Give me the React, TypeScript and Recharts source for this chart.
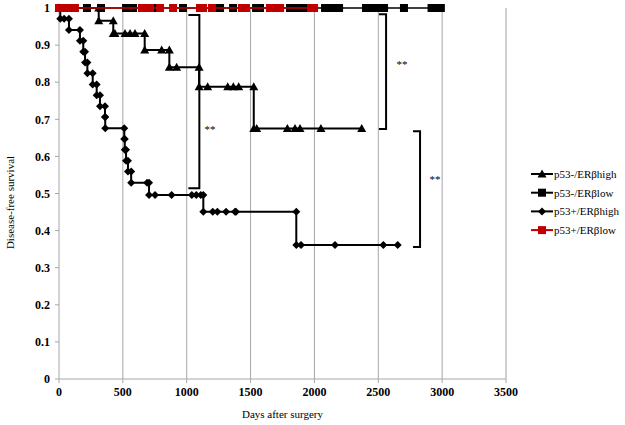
import { ComposedChart, Scatter, XAxis, YAxis, ReferenceLine, Label } from 'recharts'

// p53-/ERβhigh (triangles)
const negHighDays = [0, 311, 311, 425, 425, 438, 517, 556, 595, 671, 671, 804, 864, 864, 921, 1097, 1097, 1164, 1321, 1365, 1407, 1525, 1525, 1548, 1788, 1848, 1887, 2051, 2370]
const negHighSurv = [1, 1, 0.9655, 0.9655, 0.931, 0.931, 0.931, 0.931, 0.931, 0.931, 0.8867, 0.8867, 0.8867, 0.84, 0.84, 0.84, 0.7875, 0.7875, 0.7875, 0.7875, 0.7875, 0.7875, 0.675, 0.675, 0.675, 0.675, 0.675, 0.675, 0.675]

// p53-/ERβlow (black squares, no events)
const negLowDays = [0, 23, 219, 329, 525, 580, 752, 971, 1237, 1261, 1363, 1543, 1574, 1809, 1864, 1919, 2083, 2138, 2193, 2404, 2450, 2497, 2545, 2701, 2917, 2972, 2990]
const negLowSurv = [1, 1, 1, 1, 1, 1, 1, 1, 1, 1, 1, 1, 1, 1, 1, 1, 1, 1, 1, 1, 1, 1, 1, 1, 1, 1, 1]

// p53+/ERβhigh (diamonds)
const posHighDays = [0, 10, 10, 40, 78, 78, 164, 164, 190, 190, 204, 204, 222, 222, 264, 264, 295, 295, 321, 321, 360, 360, 362, 362, 511, 511, 515, 515, 525, 525, 540, 540, 565, 565, 690, 705, 705, 752, 882, 1040, 1075, 1110, 1130, 1130, 1204, 1240, 1308, 1378, 1386, 1858, 1858, 1895, 2161, 2540, 2652]
const posHighSurv = [1, 1, 0.971, 0.971, 0.971, 0.941, 0.941, 0.912, 0.912, 0.882, 0.882, 0.853, 0.853, 0.824, 0.824, 0.794, 0.794, 0.765, 0.765, 0.735, 0.735, 0.706, 0.706, 0.676, 0.676, 0.647, 0.647, 0.618, 0.618, 0.588, 0.588, 0.559, 0.559, 0.529, 0.529, 0.529, 0.496, 0.496, 0.496, 0.496, 0.496, 0.496, 0.496, 0.451, 0.451, 0.451, 0.451, 0.451, 0.451, 0.451, 0.361, 0.361, 0.361, 0.361, 0.361]

// p53+/ERβlow (red squares, no events)
const posLowDays = [0, 8, 47, 86, 125, 650, 673, 712, 791, 893, 1104, 1128, 1198, 1433, 1464, 1652, 1691, 1731, 1973, 1997]
const posLowSurv = [1, 1, 1, 1, 1, 1, 1, 1, 1, 1, 1, 1, 1, 1, 1, 1, 1, 1, 1, 1]

// significance brackets
const bracket1Days = [1013, 1099, 1099, 1013]
const bracket1Surv = [0.981, 0.981, 0.514, 0.514]
const bracket2Days = [2505, 2561, 2561, 2505]
const bracket2Surv = [0.983, 0.983, 0.674, 0.674]
const bracket3Days = [2772, 2827, 2827, 2772]
const bracket3Surv = [0.668, 0.668, 0.356, 0.356]
const starDays = [1182, 2686, 2944]
const starSurv = [0.679, 0.854, 0.544]

const xTicks = [0, 500, 1000, 1500, 2000, 2500, 3000, 3500]
const yTicks = [0, 0.1, 0.2, 0.3, 0.4, 0.5, 0.6, 0.7, 0.8, 0.9, 1]
const gridDays = [500, 1000, 1500, 2000, 2500, 3000]

const seriesNames = ['p53-/ERβhigh', 'p53-/ERβlow', 'p53+/ERβhigh', 'p53+/ERβlow']

const RED = '#c00000'
const FONT = '"Liberation Serif", "Times New Roman", "DejaVu Serif", serif'

const zip = (xs: number[], ys: number[]) => xs.map((x, i) => ({ x, y: ys[i] }))

const triangle = (fill: string) => (p: any) => (
  <polygon
    points={`${p.cx},${p.cy - 4.5} ${p.cx + 4.5},${p.cy + 3.5} ${p.cx - 4.5},${p.cy + 3.5}`}
    fill={fill}
  />
)
const square = (fill: string, h: number) => (p: any) => (
  <rect x={p.cx - h} y={p.cy - h} width={h * 2} height={h * 2} fill={fill} />
)
const diamond = (fill: string) => (p: any) => (
  <polygon points={`${p.cx},${p.cy - 4} ${p.cx + 4},${p.cy} ${p.cx},${p.cy + 4} ${p.cx - 4},${p.cy}`} fill={fill} />
)
const noMarker = () => <g />
const starText = (p: any) => (
  <text x={p.cx} y={p.cy + 6} textAnchor="middle" style={{ fontFamily: FONT }} fontSize={11} fill="#000" stroke="none">
    **
  </text>
)

const series = [
  { name: seriesNames[0], data: zip(negHighDays, negHighSurv), color: '#000', width: 2, shape: triangle('#000') },
  { name: seriesNames[1], data: zip(negLowDays, negLowSurv), color: '#000', width: 1.5, shape: square('#000', 4) },
  { name: seriesNames[2], data: zip(posHighDays, posHighSurv), color: '#000', width: 2, shape: diamond('#000') },
  { name: seriesNames[3], data: zip(posLowDays, posLowSurv), color: RED, width: 1.5, shape: square(RED, 4) },
]

const brackets = [zip(bracket1Days, bracket1Surv), zip(bracket2Days, bracket2Surv), zip(bracket3Days, bracket3Surv)]

const YTitle = (props: any) => {
  const { viewBox } = props
  const x = viewBox.x + 14
  const y = viewBox.y + viewBox.height / 2 + 9
  return (
    <text x={x} y={y} transform={`rotate(-90 ${x} ${y})`} textAnchor="middle" style={{ fontFamily: FONT }} fontSize={11} fill="#000">
      Disease-free survival
    </text>
  )
}

const XTitle = (props: any) => {
  const { viewBox } = props
  return (
    <text x={viewBox.x + viewBox.width / 2} y={418} textAnchor="middle" style={{ fontFamily: FONT }} fontSize={11} fill="#000">
      Days after surgery
    </text>
  )
}

function LegendBox() {
  return (
    <svg width={100} height={80} style={{ position: 'absolute', left: 528, top: 164 }}>
      {series.map((s, i) => {
        const cy = 10 + i * 18.7
        const Marker = s.shape
        return (
          <g key={s.name}>
            <line x1={3} x2={25} y1={cy} y2={cy} stroke={s.color} strokeWidth={2} />
            <Marker cx={14} cy={cy} />
            <text x={26} y={cy + 4} style={{ fontFamily: FONT }} fontSize={11} fill="#000">
              {s.name}
            </text>
          </g>
        )
      })}
    </svg>
  )
}

const tickStyle = { fontSize: 12, fontWeight: 'bold', fill: '#000', style: { fontFamily: FONT } }

export default function App() {
  return (
    <div style={{ position: 'absolute', left: 0, top: 0, width: 625, height: 425, background: '#fff', fontFamily: FONT }}>
      <ComposedChart width={625} height={425} margin={{ top: 8, right: 119, bottom: 0, left: 0 }}>
        {gridDays.map((d) => (
          <ReferenceLine key={d} x={d} stroke="#a6a6a6" strokeWidth={1} />
        ))}
        <ReferenceLine x={3500} stroke="#d0d0d0" strokeWidth={2} />
        <XAxis
          type="number"
          dataKey="x"
          domain={[0, 3500]}
          ticks={xTicks}
          height={46}
          stroke="#a6a6a6"
          tickSize={4}
          tickMargin={4}
          tick={tickStyle}
        >
          <Label content={XTitle} />
        </XAxis>
        <YAxis
          type="number"
          dataKey="y"
          domain={[0, 1]}
          ticks={yTicks}
          width={59}
          stroke="#a6a6a6"
          tickSize={4}
          tickMargin={5}
          tickFormatter={(v: number) => String(v)}
          tick={tickStyle}
        >
          <Label content={YTitle} />
        </YAxis>
        {series.map((s) => (
          <Scatter
            key={s.name}
            name={s.name}
            data={s.data}
            line={{ stroke: s.color, strokeWidth: s.width }}
            shape={s.shape}
            isAnimationActive={false}
          />
        ))}
        {brackets.map((b, i) => (
          <Scatter
            key={`bracket-${i}`}
            data={b}
            line={{ stroke: '#000', strokeWidth: 2 }}
            shape={noMarker}
            legendType="none"
            isAnimationActive={false}
          />
        ))}
        <Scatter data={zip(starDays, starSurv)} shape={starText} legendType="none" isAnimationActive={false} />
      </ComposedChart>
      <LegendBox />
    </div>
  )
}
